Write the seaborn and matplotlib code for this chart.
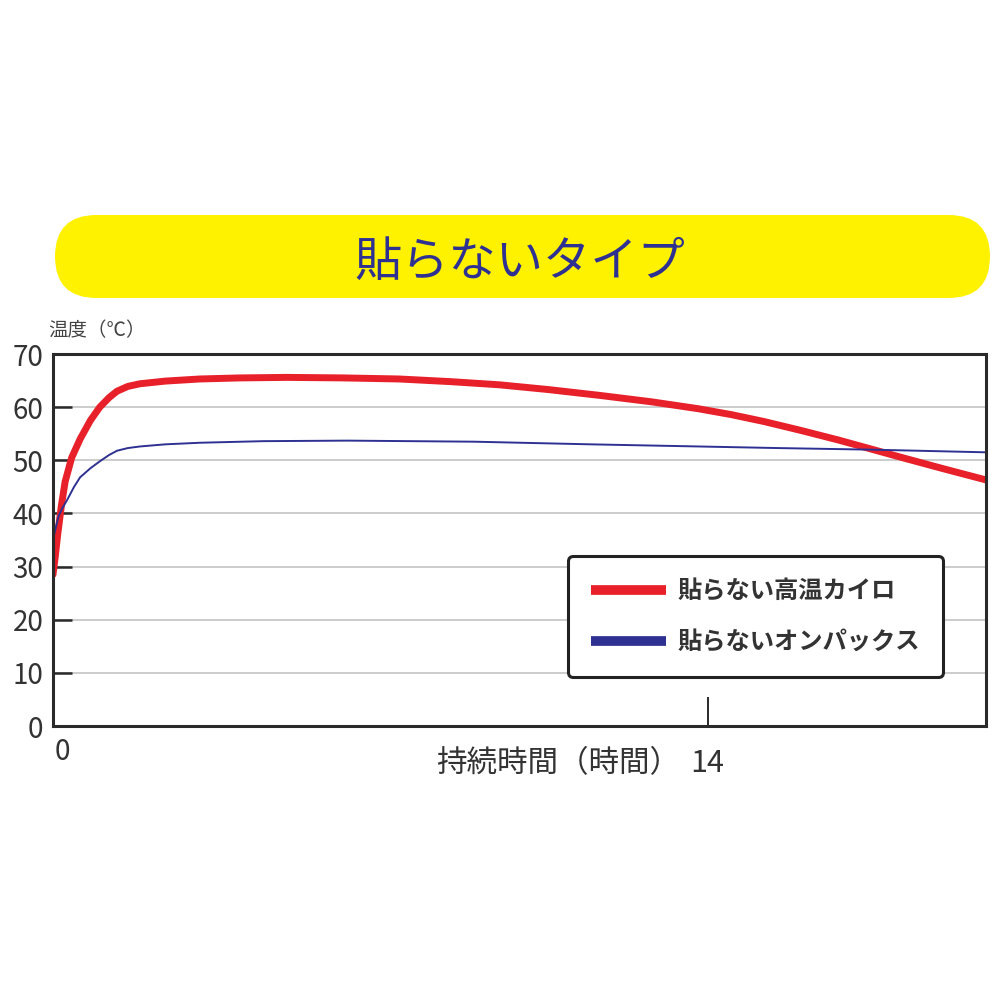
import pandas as pd
import seaborn as sns
import matplotlib.pyplot as plt
from matplotlib.lines import Line2D
from matplotlib.patches import FancyBboxPatch
import matplotlib.transforms as mtransforms

# ---------------------------------------------------------------- data
hours_red = [0, 0.05, 0.1, 0.18, 0.26, 0.4, 0.58, 0.8, 1.0, 1.2, 1.37, 1.6, 1.86,
             2.4, 3.14, 4.0, 5.0, 6.2, 7.4, 8.5, 9.55, 10.6, 11.7, 12.8, 13.8,
             14.5, 15.2, 16.0, 16.8, 17.5, 18.2, 19.0, 19.95]
temp_red = [28.5, 32, 36, 41.5, 46, 50.5, 54, 57.5, 60, 61.8, 63, 63.9, 64.4,
            64.9, 65.3, 65.5, 65.6, 65.5, 65.3, 64.8, 64.2, 63.3, 62.2, 61.0, 59.7,
            58.6, 57.3, 55.6, 53.8, 52.1, 50.4, 48.5, 46.3]

hours_blue = [0, 0.05, 0.12, 0.2, 0.3, 0.45, 0.58, 0.8, 1.0, 1.2, 1.37, 1.6, 1.86,
              2.4, 3.14, 4.5, 6.3, 9.0, 11.5, 13.8, 15.5, 17.5, 19.95]
temp_blue = [35, 37, 39.5, 41, 42.5, 45, 46.8, 48.5, 49.8, 51.0, 51.8, 52.3, 52.6,
             53.0, 53.3, 53.6, 53.7, 53.5, 53.0, 52.6, 52.3, 52.0, 51.5]

series_names = ["貼らない高温カイロ", "貼らないオンパックス"]
series_colors = ["#e8202a", "#2e3192"]
banner_title = "貼らないタイプ"
y_label = "温度（℃）"
x_label = "持続時間（時間）"
x_ticks = [0, 14]
y_ticks = [0, 10, 20, 30, 40, 50, 60, 70]

df = pd.concat([
    pd.DataFrame({"hours": hours_red, "temp": temp_red, "series": series_names[0]}),
    pd.DataFrame({"hours": hours_blue, "temp": temp_blue, "series": series_names[1]}),
])

# ---------------------------------------------------------------- style
sns.set_theme(style="white")
plt.rcParams["font.family"] = ["Noto Sans CJK JP", "DejaVu Sans"]

fig = plt.figure(figsize=(10, 10), dpi=100)
ax = fig.add_axes([0.053, 0.274, 0.933, 0.372])

sns.lineplot(data=df[df.series == series_names[0]], x="hours", y="temp",
             color=series_colors[0], linewidth=5, ax=ax, legend=False)
sns.lineplot(data=df[df.series == series_names[1]], x="hours", y="temp",
             color=series_colors[1], linewidth=1.4, ax=ax, legend=False)

ax.set_xlim(0, 19.95)
ax.set_ylim(0, 70)
ax.set_yticks(y_ticks)
ax.set_yticklabels([str(v) for v in y_ticks])
ax.set_xticks(x_ticks)
ax.set_xticklabels([str(v) for v in x_ticks])
ax.set_xlabel("")
ax.set_ylabel("")

for y in y_ticks[1:-1]:
    ax.axhline(y, color="#c8c8c8", linewidth=1.3, zorder=0)

for sp in ax.spines.values():
    sp.set_color("#2a2a2a")
    sp.set_linewidth(2.2)

ax.tick_params(axis="y", direction="in", length=14, width=1.8, color="#2a2a2a",
               labelsize=20, labelcolor="#333333", pad=7, left=True)
ax.tick_params(axis="x", direction="in", length=21, width=1.4, color="#2a2a2a",
               labelsize=20, labelcolor="#333333", pad=8, bottom=True)

# nudge the "0" label right of the spine, drop the "14" label to the caption line
lbl0, lbl14 = ax.get_xticklabels()
lbl0.set_transform(lbl0.get_transform()
                   + mtransforms.ScaledTranslation(0.09, 0, fig.dpi_scale_trans))
lbl14.set_transform(lbl14.get_transform()
                    + mtransforms.ScaledTranslation(0.0, -0.11, fig.dpi_scale_trans))
lbl14.set_fontsize(22)

# x-axis caption sitting left of the "14" label
ax.annotate(x_label, xy=(14, 0), xycoords="data", xytext=(-20, -27),
            textcoords="offset points", ha="right", va="center",
            fontsize=22, color="#333333", annotation_clip=False)

# y-axis caption above the axis
fig.text(0.048, 0.669, y_label, fontsize=14, color="#444444", ha="left", va="center")

# legend
handles = [Line2D([0], [0], color=c, linewidth=7, solid_capstyle="butt")
           for c in series_colors]
leg = ax.legend(handles, series_names, loc="upper left", bbox_to_anchor=(0.552, 0.456),
                frameon=True, fancybox=True, fontsize=17.5, handlelength=3.1,
                handletextpad=0.45, labelspacing=1.1, borderpad=0.95, borderaxespad=0)
frame = leg.get_frame()
frame.set_edgecolor("#222222")
frame.set_linewidth(2.2)
frame.set_alpha(1)
for t in leg.get_texts():
    t.set_fontweight("bold")
    t.set_color("#333333")

# yellow title banner
banner = FancyBboxPatch((0.055, 0.702), 0.935, 0.083, transform=fig.transFigure,
                        boxstyle="round,pad=0,rounding_size=0.0415",
                        facecolor="#fff200", edgecolor="none")
fig.patches.append(banner)
fig.text(0.52, 0.737, banner_title, fontsize=34, color="#2e3192",
         ha="center", va="center")

fig.savefig("out.png", dpi=100)
